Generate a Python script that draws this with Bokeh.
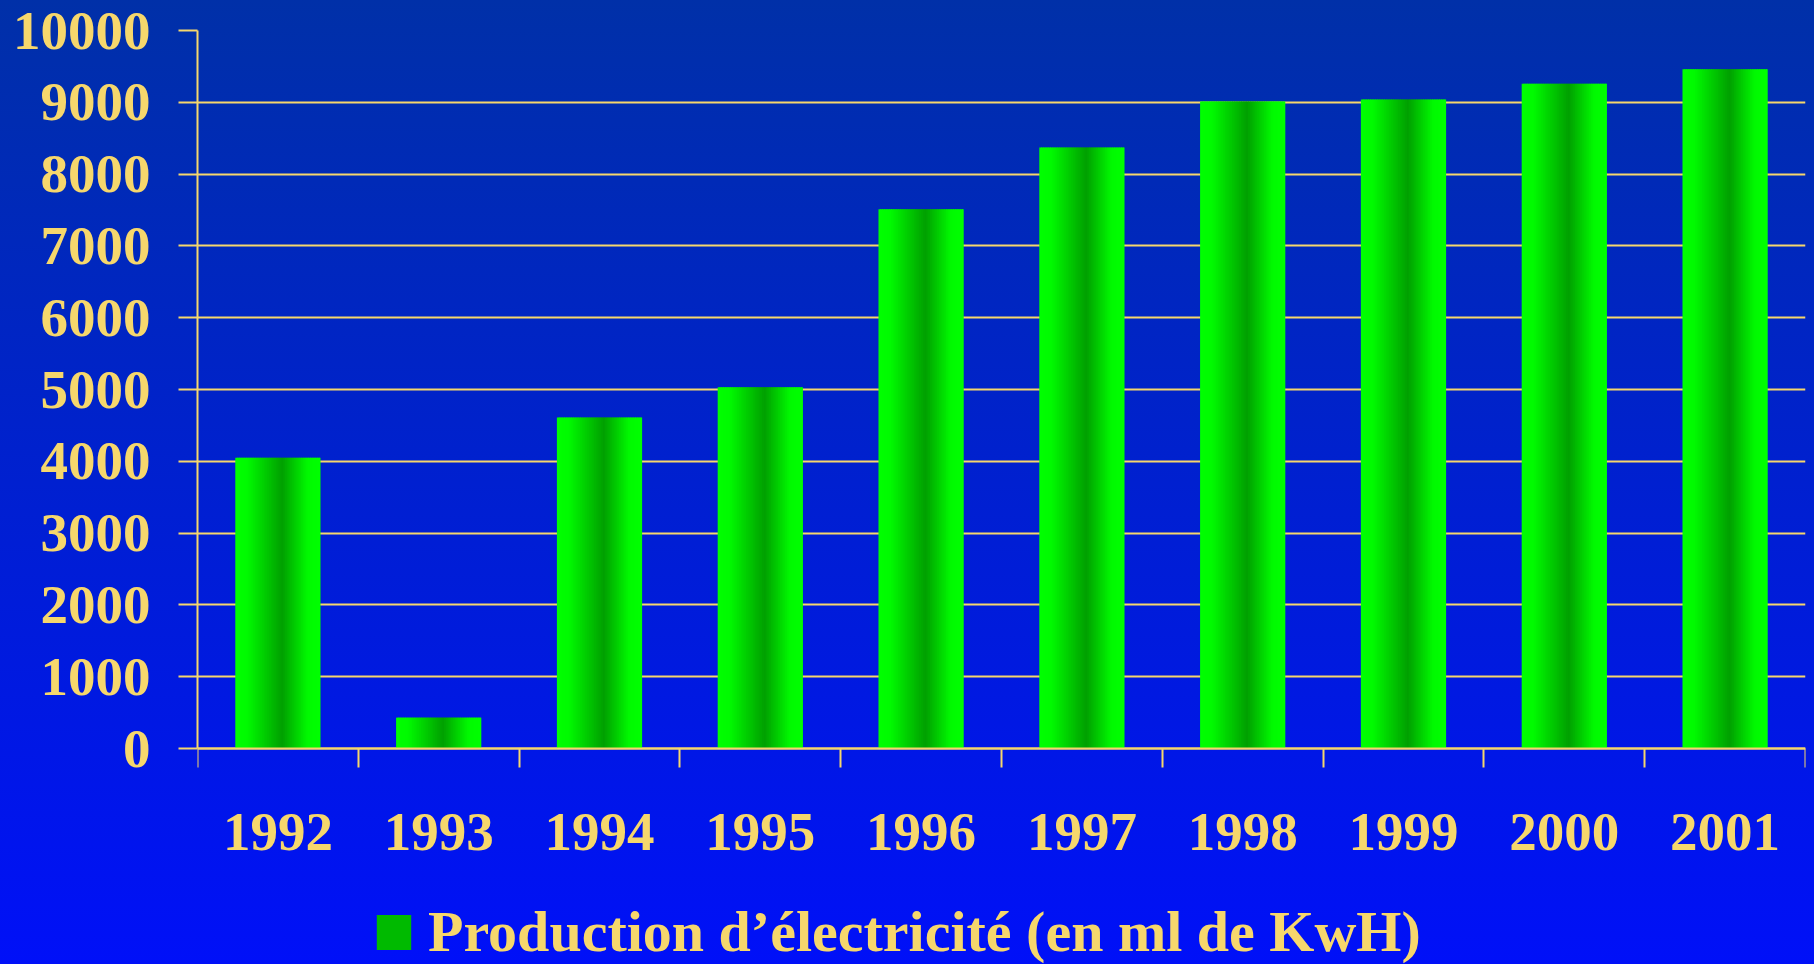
from bokeh.plotting import figure
from bokeh.models import (Range1d, FixedTicker, ColumnDataSource, Legend,
                          LegendItem, NumeralTickFormatter, LinearAxis)
from bokeh.embed import file_html
from bokeh.resources import INLINE

# ---------------- data ----------------
years = ["1992", "1993", "1994", "1995", "1996", "1997", "1998", "1999", "2000", "2001"]
production = [4050, 430, 4610, 5030, 7510, 8370, 9010, 9040, 9260, 9460]
y_ticks = [0, 1000, 2000, 3000, 4000, 5000, 6000, 7000, 8000, 9000, 10000]
legend_label = "Production d\u2019\u00e9lectricit\u00e9 (en ml de KwH)"

# ---------------- style / layout ----------------
W, H = 1814, 964
FRAME_TOP = 30          # px of the 10000 line
ZERO_PX = 748           # px of the 0 line
GOLD = "#F6D76C"
FONT = "Liberation Serif"
BAR_W = 0.53
N_STRIPS = 48
# horizontal shading of each bar: (position across bar, green level)
SHADE = [(0.0, 255), (0.14, 250), (0.55, 160), (0.85, 250), (1.0, 255)]


def green_at(t):
    for (t0, g0), (t1, g1) in zip(SHADE[:-1], SHADE[1:]):
        if t0 <= t <= t1:
            g = g0 + (g1 - g0) * (t - t0) / (t1 - t0)
            return "#00%02X00" % int(round(g))
    return "#00FF00"


# strips that shade every bar (built from the data arrays)
left, right, top, color = [], [], [], []
dw = BAR_W / N_STRIPS
for i, val in enumerate(production):
    x0 = i + 0.5 - BAR_W / 2
    x1 = x0 + BAR_W
    for j in range(N_STRIPS):
        l = x0 + j * dw
        left.append(l)
        right.append(min(l + 1.6 * dw, x1))
        top.append(val)
        color.append(green_at((j + 0.5) / N_STRIPS))
src = ColumnDataSource(dict(left=left, right=right, top=top,
                            bottom=[0] * len(top), color=color))

y_max = y_ticks[-1]
y_min = -y_max * (H - ZERO_PX) / (ZERO_PX - FRAME_TOP)

p = figure(width=W, height=H, output_backend="svg", toolbar_location=None,
           x_range=Range1d(0, len(years)), y_range=Range1d(y_min, y_max),
           x_axis_location=None,
           min_border_left=197, min_border_right=9, min_border_top=FRAME_TOP,
           min_border_bottom=0)
p.styles = {
    "background": "linear-gradient(to bottom, #0030A8 0%, #0010F8 100%)",
}
p.background_fill_alpha = 0
p.border_fill_alpha = 0
p.outline_line_color = None

r = p.quad(left="left", right="right", top="top", bottom="bottom",
           fill_color="color", line_color=None, source=src)

# grid
p.xgrid.visible = False
p.ygrid.ticker = FixedTicker(ticks=y_ticks)
p.ygrid.grid_line_color = GOLD
p.ygrid.grid_line_width = 2
p.ygrid.grid_line_alpha = 1

# y axis
ya = p.yaxis[0]
ya.ticker = FixedTicker(ticks=y_ticks)
ya.bounds = (0, y_max)
ya.formatter = NumeralTickFormatter(format="0")
ya.axis_line_color = GOLD
ya.axis_line_width = 2
ya.major_tick_line_color = GOLD
ya.major_tick_line_width = 2
ya.major_tick_out = 19
ya.major_tick_in = 0
ya.minor_tick_out = 0
ya.minor_tick_in = 0
ya.major_label_standoff = 28
ya.major_label_text_font = FONT
ya.major_label_text_font_style = "bold"
ya.major_label_text_font_size = "55px"
ya.major_label_text_color = GOLD

# x axis at y = 0: labels at category centres, ticks at category boundaries
centres = [i + 0.5 for i in range(len(years))]
xa = LinearAxis(fixed_location=0,
                ticker=FixedTicker(ticks=centres,
                                   minor_ticks=list(range(len(years) + 1))))
xa.major_label_overrides = {c: y for c, y in zip(centres, years)}
xa.axis_line_color = GOLD
xa.axis_line_width = 2
xa.major_tick_out = 0
xa.major_tick_in = 0
xa.minor_tick_out = 19
xa.minor_tick_in = 0
xa.minor_tick_line_color = GOLD
xa.minor_tick_line_width = 2
xa.major_label_standoff = 46
xa.major_label_text_font = FONT
xa.major_label_text_font_style = "bold"
xa.major_label_text_font_size = "55px"
xa.major_label_text_color = GOLD
p.add_layout(xa, "below")

legend = Legend(items=[LegendItem(label=legend_label, renderers=[r], index=N_STRIPS // 2 + 6)],
                orientation="horizontal", location=(175, -1),
                glyph_width=43, glyph_height=44, label_standoff=13,
                label_text_font=FONT, label_text_font_style="bold",
                label_text_font_size="58px", label_text_color=GOLD,
                background_fill_alpha=0, border_line_alpha=0,
                padding=0, margin=0, spacing=0)
p.add_layout(legend, "center")

open("out.html", "w").write(file_html(p, INLINE))
